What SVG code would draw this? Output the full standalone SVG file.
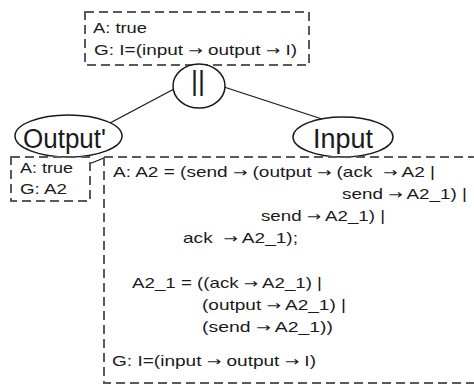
<svg xmlns="http://www.w3.org/2000/svg" width="474" height="388" viewBox="0 0 474 388">
<style>
text{font-family:"Liberation Sans",Arial,sans-serif;fill:#1a1a1a;white-space:pre}
.s{font-size:14.5px}
.b{font-size:27px}
.r{font-family:"DejaVu Sans",sans-serif;font-size:13px}
.box{fill:none;stroke:#5a5a5a;stroke-width:2;stroke-dasharray:9 5}
.nd{fill:#fff;stroke:#1a1a1a;stroke-width:1.5}
.cn{stroke:#1a1a1a;stroke-width:1.3;fill:none}
</style>
<rect width="474" height="388" fill="#fff"/>
<g id="connectors">
<line class="cn" x1="174" y1="89" x2="110" y2="123"/>
<line class="cn" x1="224" y1="87" x2="322" y2="119"/>
<line class="cn" x1="89" y1="164" x2="104" y2="158"/>
</g>
<g id="top">
<rect class="box" x="85" y="12" width="224" height="53"/>
<text class="s" x="93" y="33" textLength="54" lengthAdjust="spacingAndGlyphs">A: true</text>
<text class="s" x="94" y="55" textLength="203" lengthAdjust="spacingAndGlyphs">G: I=(input <tspan class="r">→</tspan> output <tspan class="r">→</tspan> I)</text>
</g>
<g id="par">
<ellipse class="nd" cx="199" cy="86" rx="26" ry="22"/>
<text class="b" x="198" y="90" text-anchor="middle">||</text>
</g>
<g id="output">
<ellipse class="nd" cx="68.5" cy="136" rx="53.5" ry="21"/>
<text class="b" x="23" y="148" textLength="83" lengthAdjust="spacingAndGlyphs">Output'</text>
</g>
<g id="output-contract">
<rect class="box" x="11" y="157" width="79" height="44"/>
<text class="s" x="20" y="173" textLength="53" lengthAdjust="spacingAndGlyphs">A: true</text>
<text class="s" x="20" y="194" textLength="47" lengthAdjust="spacingAndGlyphs">G: A2</text>
</g>
<g id="input">
<ellipse class="nd" cx="343" cy="137" rx="50" ry="20"/>
<text class="b" x="313" y="148" textLength="60" lengthAdjust="spacingAndGlyphs">Input</text>
</g>
<g id="input-contract">
<path class="box" d="M104 157 H480 M104 157 V383 H480"/>
<text class="s" x="113" y="177" textLength="322" lengthAdjust="spacingAndGlyphs">A: A2 = (send <tspan class="r">→</tspan> (output <tspan class="r">→</tspan> (ack  <tspan class="r">→</tspan> A2 |</text>
<text class="s" x="342" y="199" textLength="125" lengthAdjust="spacingAndGlyphs">send <tspan class="r">→</tspan> A2_1) |</text>
<text class="s" x="261" y="221" textLength="124" lengthAdjust="spacingAndGlyphs">send <tspan class="r">→</tspan> A2_1) |</text>
<text class="s" x="183" y="243" textLength="115" lengthAdjust="spacingAndGlyphs">ack  <tspan class="r">→</tspan> A2_1);</text>
<text class="s" x="132" y="288" textLength="190" lengthAdjust="spacingAndGlyphs">A2_1 = ((ack <tspan class="r">→</tspan> A2_1) |</text>
<text class="s" x="202" y="310" textLength="144" lengthAdjust="spacingAndGlyphs">(output <tspan class="r">→</tspan> A2_1) |</text>
<text class="s" x="202" y="332" textLength="131" lengthAdjust="spacingAndGlyphs">(send <tspan class="r">→</tspan> A2_1))</text>
<text class="s" x="112" y="366" textLength="204" lengthAdjust="spacingAndGlyphs">G: I=(input <tspan class="r">→</tspan> output <tspan class="r">→</tspan> I)</text>
</g>
</svg>
